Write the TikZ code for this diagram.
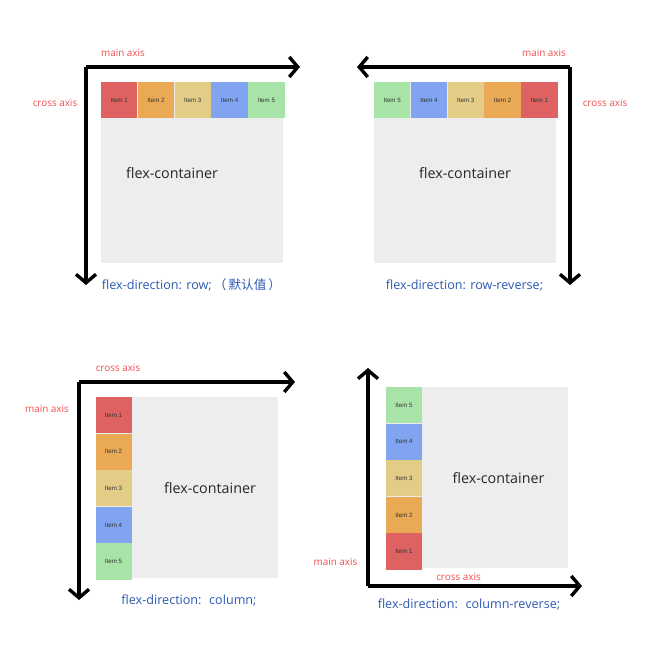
\documentclass[tikz,border=0pt]{standalone}
\usepackage{fontspec}
\setmainfont{Open Sans}
\newfontfamily\cjk{Noto Sans CJK SC}
\newfontfamily\itemfont{Liberation Sans}
\usepackage{xcolor}
\usetikzlibrary{positioning, arrows.meta}

\definecolor{itemred}{RGB}{222,98,98}
\definecolor{itemorange}{RGB}{234,170,85}
\definecolor{itemyellow}{RGB}{227,205,134}
\definecolor{itemblue}{RGB}{128,164,239}
\definecolor{itemgreen}{RGB}{168,228,168}
\definecolor{boxgray}{RGB}{237,237,237}
\definecolor{axisred}{RGB}{240,78,78}
\definecolor{capblue}{RGB}{42,88,178}

\begin{document}
\begin{tikzpicture}[x=1pt, y=-1pt, node distance=0pt]

			% Styles
			\tikzset{
				container/.style={
					rectangle, fill=boxgray, inner sep=0pt,
					minimum width=182pt, minimum height=181pt
				},
				hitem/.style={
					rectangle, inner sep=0pt, minimum width=36.4pt, minimum height=36pt,
					font=\itemfont\fontsize{6.2}{7}\selectfont, text=black!80
				},
				vitem/.style={
					rectangle, inner sep=0pt, minimum width=36pt, minimum height=36.2pt,
					font=\itemfont\fontsize{6.2}{7}\selectfont, text=black!80
				},
				boxtext/.style={font=\fontsize{14.3}{16}\selectfont, text=black!85},
				axislabel/.style={font=\fontsize{9.9}{11}\selectfont, text=axisred},
				caption/.style={font=\fontsize{12.6}{14}\selectfont, text=capblue},
				axis/.style={line width=3.4pt, -{Straight Barb[length=8.5pt, width=20pt]}}
			}

			\useasboundingbox (0,0) rectangle (659,656);

			% Panel 1: row
			\node (box1) [container] at (192,172.5) {};
			\node (text1) [boxtext] at (172,173) {flex-container};
			\node (r1i1) [hitem, fill=itemred, anchor=north west] at (box1.north west) {Item 1};
			\node (r1i2) [hitem, fill=itemorange, right=of r1i1] {Item 2};
			\node (r1i3) [hitem, fill=itemyellow, right=of r1i2] {Item 3};
			\node (r1i4) [hitem, fill=itemblue, right=of r1i3] {Item 4};
			\node (r1i5) [hitem, fill=itemgreen, right=of r1i4] {Item 5};
			\coordinate (o1) at (86,67);
			\coordinate (m1) at (300,67);
			\coordinate (c1) at (86,285);
			\draw[axis] (o1) -- (m1);
			\draw[axis] (o1) -- (c1);
			\node (main1) [axislabel] at (123,53) {main axis};
			\node (cross1) [axislabel] at (55,103) {cross axis};
			\node (cap1) [caption] at (191.5,285) {flex-direction: row;\,{\cjk（\,默认值\,）}};

			% Panel 2: row-reverse
			\node (box2) [container] at (465,172.5) {};
			\node (text2) [boxtext] at (465,173) {flex-container};
			\node (r2i5) [hitem, fill=itemgreen, anchor=north west] at (box2.north west) {Item 5};
			\node (r2i4) [hitem, fill=itemblue, right=of r2i5] {Item 4};
			\node (r2i3) [hitem, fill=itemyellow, right=of r2i4] {Item 3};
			\node (r2i2) [hitem, fill=itemorange, right=of r2i3] {Item 2};
			\node (r2i1) [hitem, fill=itemred, right=of r2i2] {Item 1};
			\coordinate (o2) at (570,67);
			\coordinate (m2) at (357,67);
			\coordinate (c2) at (570,285);
			\draw[axis] (o2) -- (m2);
			\draw[axis] (o2) -- (c2);
			\node (main2) [axislabel] at (544,53) {main axis};
			\node (cross2) [axislabel] at (605,103) {cross axis};
			\node (cap2) [caption] at (464.5,285) {flex-direction: row-reverse;};

			% Panel 3: column
			\node (box3) [container] at (186.5,487.5) {};
			\node (text3) [boxtext] at (210,488) {flex-container};
			\node (c3i1) [vitem, fill=itemred, anchor=north west] at (box3.north west) {Item 1};
			\node (c3i2) [vitem, fill=itemorange, below=of c3i1] {Item 2};
			\node (c3i3) [vitem, fill=itemyellow, below=of c3i2] {Item 3};
			\node (c3i4) [vitem, fill=itemblue, below=of c3i3] {Item 4};
			\node (c3i5) [vitem, fill=itemgreen, below=of c3i4] {Item 5};
			\coordinate (o3) at (79,382);
			\coordinate (m3) at (79,600);
			\coordinate (c3) at (295,382);
			\draw[axis] (o3) -- (c3);
			\draw[axis] (o3) -- (m3);
			\node (main3) [axislabel] at (47,409) {main axis};
			\node (cross3) [axislabel] at (118,368) {cross axis};
			\node (cap3) [caption] at (189,600) {flex-direction: \ column;};

			% Panel 4: column-reverse
			\node (box4) [container] at (477,477.5) {};
			\node (text4) [boxtext] at (498.5,478) {flex-container};
			\node (c4i5) [vitem, fill=itemgreen, anchor=north west] at (box4.north west) {Item 5};
			\node (c4i4) [vitem, fill=itemblue, below=of c4i5] {Item 4};
			\node (c4i3) [vitem, fill=itemyellow, below=of c4i4] {Item 3};
			\node (c4i2) [vitem, fill=itemorange, below=of c4i3] {Item 2};
			\node (c4i1) [vitem, fill=itemred, below=of c4i2] {Item 1};
			\coordinate (o4) at (368,586);
			\coordinate (m4) at (368,368);
			\coordinate (c4) at (582,586);
			\draw[axis] (o4) -- (m4);
			\draw[axis] (o4) -- (c4);
			\node (main4) [axislabel] at (335.5,562) {main axis};
			\node (cross4) [axislabel] at (458.5,577) {cross axis};
			\node (cap4) [caption] at (469,604) {flex-direction: \ column-reverse;};

		\end{tikzpicture}
\end{document}
